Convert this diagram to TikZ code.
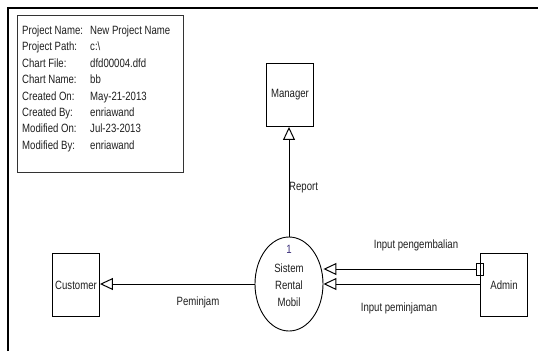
\documentclass[tikz,border=0pt]{standalone}
\usepackage{fontspec}
\setmainfont{Liberation Sans}[FakeStretch=0.8]
\usetikzlibrary{arrows.meta,shapes.geometric,positioning}
\definecolor{ink}{HTML}{1E1E1E}
\definecolor{numink}{HTML}{3B2F7A}

\begin{document}
\begin{tikzpicture}[
  x=1pt, y=-1pt,
  font=\fontsize{12}{13}\selectfont, text=ink,
  flow/.style={-{Triangle[open,length=13pt,width=12pt]},draw=black,line width=1pt},
  entity/.style={draw=black,line width=.9pt,minimum width=47pt,minimum height=63pt,inner sep=0pt},
  process/.style={ellipse,draw=black,line width=.9pt,minimum width=68pt,minimum height=94pt,inner sep=0pt},
  port/.style={draw=black,line width=.8pt,minimum width=7pt,minimum height=12pt,inner sep=0pt},
  flowlabel/.style={inner sep=0pt}
]
\useasboundingbox (0,0) rectangle (538,351);
% Page frame and chart information
\draw[line width=2pt] (8,351) -- (8,8) -- (538,8);
\node[draw=black!80,line width=.9pt,minimum width=166pt,minimum height=157pt,inner sep=0pt]
  (info) at (100,93.5) {};
\foreach \lab/\val [count=\i] in {Project Name:/New Project Name,Project Path:/c:\textbackslash,
  Chart File:/dfd00004.dfd,Chart Name:/bb,Created On:/May-21-2013,Created By:/enriawand,
  Modified On:/Jul-23-2013,Modified By:/enriawand}{
  \node[anchor=base west,inner sep=0pt] (lab\i) at (22,{34.5+16.4*(\i-1)}) {\lab};
  \node[anchor=base west,inner sep=0pt] (val\i) at (90,{34.5+16.4*(\i-1)}) {\val};
}
% Entities and the process
\node[entity] (manager) at (290,95) {Manager};
\node[entity] (customer) at (76,285) {Customer};
\node[entity] (admin) at (504,285) {Admin};
\node[process] (proc) at (289,284) {};
\node[align=center,inner sep=0pt,font=\fontsize{12}{17}\selectfont] (proctext) at (289,276)
  {\textcolor{numink}{1}\\[2pt]Sistem\\Rental\\Mobil};
\node[port] (retport) at (479.5,269) {};
% Data flows
\draw[flow] (proc.north) -- (proc.north |- manager.south);
\draw[flow] (retport.west) -- (retport.west -| proc.east);
\draw[flow] (admin.west |- proc.east) -- (proc.east);
\draw[flow] (proc.west) -- (proc.west -| customer.east);
\node[flowlabel,anchor=west] (reportlab) at (289,188) {Report};
\node[flowlabel] (retlab) at (416,245) {Input pengembalian};
\node[flowlabel] (loanlab) at (399,308) {Input peminjaman};
\node[flowlabel] (custlab) at (198,302) {Peminjam};
\end{tikzpicture}
\end{document}
